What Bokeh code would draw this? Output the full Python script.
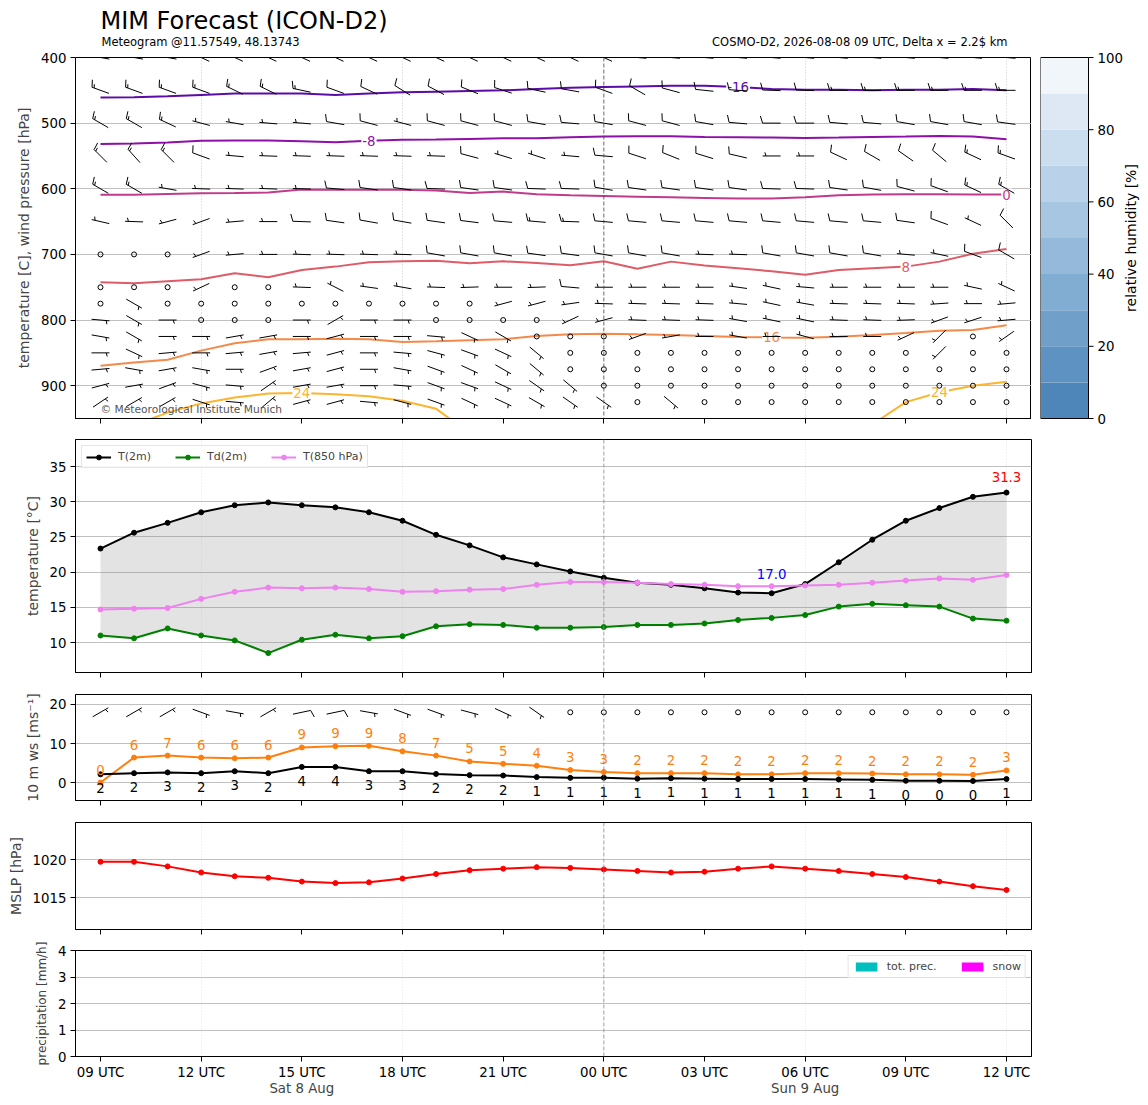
import numpy as np
import pandas as pd
from bokeh.plotting import figure
from bokeh.layouts import column, row
from bokeh.models import Range1d, FixedTicker, LinearAxis, Label, Span
from bokeh.core.properties import value
from bokeh.embed import file_html
from bokeh.resources import INLINE

FONT = "DejaVu Sans"

# ---------------- data ----------------
title_text = "MIM Forecast (ICON-D2)"
subtitle_left = "Meteogram @11.57549, 48.13743"
subtitle_right = "COSMO-D2, 2026-08-08 09 UTC, Delta x = 2.2$ km"
copyright_text = "© Meteorological Institute Munich"

times = pd.date_range("2026-08-08 09:00", periods=28, freq="h")
date_label_times = pd.to_datetime(["2026-08-08 15:00", "2026-08-09 06:00"])

levels = [400, 450, 500, 550, 600, 650, 700, 750, 775, 800, 825, 850, 875, 900, 925]

dir_400 = [280,280,280,295,295,295,295,295,295,295,295,295,295,295,295,295,275,275,275,275,275,275,275,275,275,275,275,275]
spd_400 = [15,15,15,15,15,15,15,15,15,15,15,15,15,15,15,15,15,15,15,15,15,15,15,15,15,15,15,15]
dir_450 = [290,290,290,290,296,296,282,290,295,302,298,292,288,282,280,290,300,285,276,274,272,272,270,270,270,270,270,270]
spd_450 = [15,15,15,15,15,15,15,10,10,10,10,10,10,10,10,10,10,10,10,10,10,10,15,15,15,15,15,15]
dir_500 = [300,300,295,285,280,275,275,280,285,285,285,285,285,280,275,280,285,285,280,275,270,270,275,275,280,280,280,278]
spd_500 = [15,15,15,5,5,5,5,10,10,5,10,10,10,10,10,10,10,10,10,10,10,10,10,10,10,10,10,10]
dir_550 = [315,318,315,290,275,272,272,272,272,272,272,285,287,288,275,275,288,292,287,283,270,270,295,300,305,310,295,290]
spd_550 = [15,15,15,10,5,5,5,5,5,5,5,10,5,5,5,10,10,10,10,10,5,5,10,10,10,10,15,15]
dir_600 = [300,300,280,272,272,272,272,275,278,278,272,278,278,272,272,280,278,278,278,278,272,272,278,280,285,290,295,300]
spd_600 = [15,15,5,5,5,5,5,10,10,10,10,10,10,10,10,10,10,10,10,10,10,10,10,10,10,10,15,15]
dir_650 = [283,272,255,250,265,270,272,278,280,280,278,277,275,275,272,275,275,275,275,275,275,275,275,275,278,290,295,315]
spd_650 = [5,5,5,5,5,5,10,10,10,10,10,10,10,15,15,10,10,10,10,10,10,10,10,10,10,10,5,10]
dir_700 = [0,0,0,250,265,270,272,272,272,272,280,280,280,278,278,280,280,280,272,272,280,280,280,280,275,282,290,300]
spd_700 = [0,0,0,5,5,5,5,5,5,5,10,10,10,10,10,10,10,10,5,5,10,10,10,10,5,5,10,10]
dir_750 = [0,0,0,245,0,0,272,297,278,280,272,268,270,268,275,270,270,270,270,278,282,275,270,270,270,270,282,295]
spd_750 = [0,0,0,5,0,0,5,5,5,5,5,5,5,5,10,5,5,5,5,5,5,5,5,5,5,5,5,5]
dir_775 = [0,120,0,0,0,0,0,0,0,0,0,0,255,255,262,272,272,272,272,275,282,280,272,272,272,266,270,265]
spd_775 = [0,5,0,0,0,0,0,0,0,0,0,0,5,5,5,5,5,5,5,5,5,5,5,5,5,5,5,5]
dir_800 = [95,120,90,0,0,0,90,60,90,90,0,0,0,0,245,255,272,272,272,280,282,282,272,272,268,250,252,265]
spd_800 = [5,5,5,0,0,0,5,5,5,5,0,0,0,0,5,5,5,5,5,5,5,5,5,5,5,5,5,5]
dir_825 = [100,120,90,90,80,80,90,75,90,90,95,115,120,0,0,0,250,260,270,280,270,285,270,270,245,225,0,235]
spd_825 = [5,5,5,5,5,5,5,5,5,5,5,5,5,0,0,0,5,5,5,5,5,5,5,5,5,5,0,5]
dir_850 = [90,115,85,90,85,80,85,75,90,95,105,110,115,130,0,0,0,0,0,0,0,0,0,0,0,225,0,0]
spd_850 = [5,5,5,5,5,5,5,5,5,5,5,5,5,5,0,0,0,0,0,0,0,0,0,0,0,5,0,0]
dir_875 = [85,100,80,100,90,70,80,75,90,100,110,115,120,130,0,0,0,0,0,0,0,0,0,0,0,0,0,0]
spd_875 = [5,5,5,5,5,5,5,5,5,5,5,5,5,5,0,0,0,0,0,0,0,0,0,0,0,0,0,0]
dir_900 = [75,80,70,105,95,55,80,80,90,95,110,110,115,125,130,0,0,0,0,0,0,0,0,0,0,0,0,0]
spd_900 = [5,5,5,5,5,5,5,5,5,5,5,5,5,5,5,0,0,0,0,0,0,0,0,0,0,0,0,0]
dir_925 = [56,60,60,108,95,50,75,75,95,105,110,115,115,120,125,125,0,130,0,0,0,0,0,0,0,0,0,0]
spd_925 = [5,5,5,5,5,5,5,5,5,5,5,5,5,5,5,5,0,5,0,0,0,0,0,0,0,0,0,0]

wind_dirs = [dir_400, dir_450, dir_500, dir_550, dir_600, dir_650, dir_700, dir_750,
             dir_775, dir_800, dir_825, dir_850, dir_875, dir_900, dir_925]
wind_spds = [spd_400, spd_450, spd_500, spd_550, spd_600, spd_650, spd_700, spd_750,
             spd_775, spd_800, spd_825, spd_850, spd_875, spd_900, spd_925]

# isotherm pressure heights [hPa]
nan = float("nan")
iso_levels = [-16, -8, 0, 8, 16, 24]
iso_m16 = [461,460.5,459,457,455,455,455,457,455,453,452,451,450,448,446,445,444,443,443,445,448,449,449,450,449,449,448,450]
iso_m8 = [531.6,531,529.6,527,526.5,526.5,527.5,529,527,525.5,525,524,523,523,521.5,520.4,520,520,521,521.5,522,522.5,522,521,520.4,519.5,520.4,524.5]
iso_0 = [609,609,607.8,606.8,606.4,605.8,601,601.5,601.5,601.5,602.7,606.3,604.3,608.4,610,611,612,613,613.9,615,615,613,610,608.8,608.4,608.4,608.8,608.8]
iso_8 = [742.5,744,741,738,728.8,734.9,723.6,718.6,712,710.5,709.5,713.6,710.5,713,716.6,710.5,722,711,717,721,725.7,731,723.7,721,718.6,711,699,691.6]
iso_16 = [869.5,864.5,860.4,846.6,835.5,829.4,829.4,828.4,829.4,833.5,832.4,830.9,829.4,824.3,821.8,820.7,821.8,822.8,824.3,825.8,826.5,826.8,825.3,822.8,819.7,816.2,815.1,808]
iso_24 = [nan,960,941,927,918,912,911,913,916,923,935,973,nan,nan,nan,nan,nan,nan,nan,nan,nan,nan,nan,959,925,910,900,894]
iso_lines = [iso_m16, iso_m8, iso_0, iso_8, iso_16, iso_24]
iso_colors = ["#5c0ca6", "#8e10a6", "#c13b8c", "#dd5c68", "#f4894a", "#fdb42f"]
iso_label_idx = [[19], [8], [27], [24], [20], [6, 25]]

rh_levels = [0, 10, 20, 30, 40, 50, 60, 70, 80, 90, 100]
rh_colors = ["#4f86b9", "#5e92c2", "#70a0ca", "#82add2", "#94b9da", "#a7c6e1",
             "#b9d2e9", "#cbdef0", "#dde8f4", "#f1f6fb"]
rh_ticks = [0, 20, 40, 60, 80, 100]
rh_label = "relative humidity [%]"

t2m = [23.35,25.6,27.0,28.5,29.5,29.9,29.5,29.2,28.5,27.3,25.3,23.8,22.1,21.1,20.1,19.2,18.5,18.2,17.7,17.1,17.0,18.3,21.4,24.6,27.3,29.1,30.7,31.3]
td2m = [11.0,10.6,12.0,11.0,10.3,8.5,10.4,11.1,10.6,10.9,12.3,12.6,12.5,12.1,12.1,12.2,12.5,12.5,12.7,13.2,13.5,13.9,15.1,15.5,15.3,15.1,13.4,13.1]
t850 = [14.7,14.8,14.9,16.2,17.2,17.8,17.7,17.8,17.6,17.2,17.3,17.5,17.6,18.2,18.6,18.6,18.5,18.3,18.2,18.0,18.0,18.1,18.2,18.5,18.8,19.1,18.9,19.6]

ws10 = [2.1,2.4,2.6,2.4,2.9,2.4,4.0,4.0,2.9,2.9,2.2,1.9,1.8,1.4,1.2,1.25,1.0,1.1,1.0,0.9,0.9,0.9,0.8,0.7,0.45,0.45,0.4,0.9]
gust10 = [0.0,6.4,6.9,6.4,6.2,6.4,9.0,9.3,9.4,8.0,6.9,5.4,4.8,4.3,3.2,2.7,2.4,2.4,2.4,2.1,2.1,2.4,2.4,2.3,2.1,2.1,2.0,3.1]
dir_10m = [60,60,60,110,100,60,78,78,100,110,110,105,115,125,0,0,0,0,0,0,0,0,0,0,0,0,0,0]
barb_row_10m = 18

mslp = [1019.7,1019.7,1019.1,1018.3,1017.8,1017.6,1017.1,1016.9,1017.0,1017.5,1018.1,1018.6,1018.8,1019.0,1018.9,1018.7,1018.5,1018.3,1018.4,1018.8,1019.1,1018.8,1018.5,1018.1,1017.7,1017.1,1016.5,1016.0]

precip_tot = [0.0]*28
precip_snow = [0.0]*28

# ---------------- derived x positions ----------------
hours = ((times - times[0]) / pd.Timedelta(hours=1)).to_numpy().astype(float)
tick_hours = hours[::3]
tick_labels = [f"{t:%H} UTC" for t in times[::3]]
grid6 = [h for h, t in zip(hours, times) if t.hour % 6 == 0 and t.hour != 0]
midnight = [h for h, t in zip(hours, times) if t.hour == 0][0]
date_hours = [float((t - times[0]) / pd.Timedelta(hours=1)) for t in date_label_times]
date_texts = [f"{t:%a} {t.day} {t:%b}" for t in date_label_times]

X0, X1 = hours[0] - 0.745, hours[-1] + 0.745
FW = 956
LEFT = 75
BOT = 11
TICK_FS = "10pt"
LAB_FS = "14px"


def make_fig(fh, y0, y1, top, bottom=BOT, right=5):
    p = figure(frame_width=FW, frame_height=fh, x_range=Range1d(X0, X1),
               y_range=Range1d(y0, y1), min_border_left=LEFT, min_border_right=right,
               min_border_top=top, min_border_bottom=bottom,
               output_backend="svg", toolbar_location=None)
    p.outline_line_color = "black"
    p.outline_line_width = 1
    p.background_fill_color = "white"
    p.border_fill_color = "white"
    return p


def style(p, yticks, ylabel, xlabels=False, vcol="#dddddd", mcol="#888888", ylab_size=LAB_FS):
    p.xaxis.ticker = FixedTicker(ticks=list(tick_hours))
    p.xaxis.major_label_overrides = {int(h): lab for h, lab in zip(tick_hours, tick_labels)}
    p.yaxis.ticker = FixedTicker(ticks=yticks)
    p.yaxis.axis_label = ylabel
    for ax in p.axis:
        ax.major_tick_out = 5
        ax.major_tick_in = 0
        ax.minor_tick_line_color = None
        ax.axis_line_color = "black"
        ax.major_tick_line_color = "black"
        ax.major_label_text_font = FONT
        ax.major_label_text_font_size = TICK_FS
        ax.major_label_text_color = "black"
        ax.axis_label_text_font = FONT
        ax.axis_label_text_font_size = ylab_size
        ax.axis_label_text_font_style = "normal"
        ax.axis_label_standoff = 6
        ax.major_label_standoff = 4
    if not xlabels:
        p.xaxis.major_label_text_font_size = "1px"
        p.xaxis.major_label_text_color = None
        p.xaxis.major_label_standoff = 0
    else:
        p.xaxis.major_label_standoff = 3
    p.ygrid.ticker = FixedTicker(ticks=yticks)
    p.ygrid.grid_line_color = "#b0b0b0"
    p.ygrid.grid_line_width = 0.8
    p.xgrid.ticker = FixedTicker(ticks=grid6)
    p.xgrid.grid_line_color = vcol
    p.xgrid.grid_line_dash = "1 2"
    p.xgrid.grid_line_width = 0.8
    p.add_layout(Span(location=midnight, dimension="height", line_color=mcol,
                      line_dash="4 2", line_width=0.8))


def add_barbs(p, xs, ys, dirs, spds, px_x, px_y, ysign, L=18.0):
    x0s, y0s, x1s, y1s, cx, cy = [], [], [], [], [], []
    sp = 0.125 * L
    for x, y, d, s in zip(xs, ys, dirs, spds):
        n5 = int(np.round(s / 5.0))
        if n5 == 0:
            cx.append(x)
            cy.append(y)
            continue
        nfull, half = divmod(n5, 2)
        th = np.deg2rad(d)
        tx, ty = np.sin(th), np.cos(th)
        nx, ny = np.cos(th), -np.sin(th)
        bx, by = -tx * L / 2, -ty * L / 2
        segs = [((bx, by), (tx * L / 2, ty * L / 2))]
        off = L
        for _ in range(nfull):
            ox, oy = bx + tx * off, by + ty * off
            segs.append(((ox, oy), (ox + nx * 0.4 * L + tx * sp, oy + ny * 0.4 * L + ty * sp)))
            off -= sp
        if half:
            if nfull == 0:
                off -= 1.5 * sp
            ox, oy = bx + tx * off, by + ty * off
            segs.append(((ox, oy), (ox + nx * 0.2 * L + tx * sp / 2, oy + ny * 0.2 * L + ty * sp / 2)))
        for (a, b), (c, e) in segs:
            x0s.append(x + a / px_x)
            y0s.append(y + ysign * b / px_y)
            x1s.append(x + c / px_x)
            y1s.append(y + ysign * e / px_y)
    p.segment(x0s, y0s, x1s, y1s, line_color="black", line_width=1)
    p.scatter(cx, cy, marker="circle", size=5, fill_color=None, line_color="black", line_width=1)


px_x = FW / (X1 - X0)

# ---------------- header (titles) ----------------
HH = 49
hdr = figure(frame_width=FW, frame_height=HH, x_range=Range1d(0, FW), y_range=Range1d(0, HH),
             min_border_left=LEFT, min_border_right=0, min_border_top=0, min_border_bottom=0,
             x_axis_type=None, y_axis_type=None, output_backend="svg", toolbar_location=None)
hdr.outline_line_color = None
hdr.grid.visible = False
hdr.text([25], [HH - 20], text=[title_text], text_font=value(FONT), text_font_size="24px",
         text_color="black", text_align="left", text_baseline="middle")
hdr.text([26], [HH - 41], text=[subtitle_left], text_font=value(FONT), text_font_size="11.5px",
         text_color="black", text_align="left", text_baseline="middle")
hdr.text([FW - 24], [HH - 41], text=[subtitle_right], text_font=value(FONT), text_font_size="11.5px",
         text_color="black", text_align="right", text_baseline="middle")

# ---------------- panel 1: upper air ----------------
FH1 = 361
P_BOT, P_TOP = 950, 400
p1 = make_fig(FH1, P_BOT, P_TOP, top=8, right=0)
style(p1, [400, 500, 600, 700, 800, 900], "temperature [C], wind pressure [hPa]",
      vcol="#bbbbbb", mcol="#444444")

for line, col in zip(iso_lines, iso_colors):
    p1.line(hours, line, line_color=col, line_width=2)
for lev, line, col, idxs in zip(iso_levels, iso_lines, iso_colors, iso_label_idx):
    p1.text([hours[i] for i in idxs], [line[i] for i in idxs], text=[str(lev)] * len(idxs),
            text_color=col, text_font=value(FONT), text_font_size="10pt",
            text_align="center", text_baseline="middle",
            background_fill_color="white", padding=1)

bx, by, bd, bs = [], [], [], []
for lev, dl, sl in zip(levels, wind_dirs, wind_spds):
    bx += list(hours)
    by += [lev] * len(hours)
    bd += dl
    bs += sl
add_barbs(p1, bx, by, bd, bs, px_x, FH1 / (P_BOT - P_TOP), -1)

p1.add_layout(Label(x=25, y=3, x_units="screen", y_units="screen",
                    text=copyright_text, text_font=FONT,
                    text_font_size="8pt", text_color="#555555", text_baseline="bottom"))

# ---------------- colorbar (drawn as its own small figure) ----------------
CB_W = 48
u = FH1 / 100.0            # pixels per percent
pad_top, pad_bot = 8, BOT
cb = figure(frame_width=108, frame_height=FH1 + pad_top + pad_bot,
            x_range=Range1d(0, 108), y_range=Range1d(-pad_bot / u, 100 + pad_top / u),
            min_border_left=9, min_border_right=0, min_border_top=0, min_border_bottom=0,
            x_axis_type=None, y_axis_type=None, output_backend="svg", toolbar_location=None)
cb.frame_align = False
cb.outline_line_color = None
cb.grid.visible = False
cb.quad(left=0, right=CB_W, bottom=rh_levels[:-1], top=rh_levels[1:], fill_color=rh_colors,
        line_color=None)
cb.quad(left=0, right=CB_W, bottom=rh_levels[0], top=rh_levels[-1], fill_color=None,
        line_color="black", line_width=1)
cb.segment(x0=[CB_W] * len(rh_ticks), y0=rh_ticks, x1=[CB_W + 5] * len(rh_ticks), y1=rh_ticks,
           line_color="black", line_width=1)
cb.text(x=[CB_W + 9] * len(rh_ticks), y=rh_ticks, text=[str(t) for t in rh_ticks],
        text_font=value(FONT), text_font_size=TICK_FS, text_color="black",
        text_align="left", text_baseline="middle")
cb.text(x=[CB_W + 42], y=[(rh_levels[0] + rh_levels[-1]) / 2], text=[rh_label], angle=np.pi / 2,
        text_font=value(FONT), text_font_size=LAB_FS, text_color="black",
        text_align="center", text_baseline="middle")

# ---------------- panel 2: temperatures ----------------
p2 = make_fig(233, 5.74, 38.84, top=10)
style(p2, [10, 15, 20, 25, 30, 35], "temperature [°C]")
p2.varea(x=hours, y1=td2m, y2=t2m, fill_color="gray", fill_alpha=0.22)
for ser, col, lab in [(t2m, "black", "T(2m)"), (td2m, "green", "Td(2m)"), (t850, "violet", "T(850 hPa)")]:
    p2.line(hours, ser, line_color=col, line_width=2, legend_label=lab)
    p2.scatter(hours, ser, marker="circle", size=5, fill_color=col, line_color=col, legend_label=lab)
imax = int(np.argmax(t2m))
imin = int(np.argmin(t2m))
p2.text([hours[imax]], [t2m[imax]], text=[f"{t2m[imax]:.1f}"], text_color="red",
        text_font=value(FONT), text_font_size="10pt", text_align="center",
        text_baseline="middle", y_offset=-16)
p2.text([hours[imin]], [t2m[imin]], text=[f"{t2m[imin]:.1f}"], text_color="blue",
        text_font=value(FONT), text_font_size="10pt", text_align="center",
        text_baseline="middle", y_offset=-19)
lg = p2.legend[0]
lg.location = "top_left"
lg.orientation = "horizontal"
lg.label_text_font = FONT
lg.label_text_font_size = "11px"
lg.glyph_width = 25
lg.glyph_height = 12
lg.label_standoff = 7
lg.spacing = 24
lg.padding = 4
lg.margin = 6
lg.border_line_color = "#cccccc"
lg.background_fill_alpha = 0.85
lg.label_height = 12

# ---------------- panel 3: 10 m wind ----------------
FH3 = 106
W_BOT, W_TOP = -4.6, 22.56
p3 = make_fig(FH3, W_BOT, W_TOP, top=11)
style(p3, [0, 10, 20], "10 m ws [ms⁻¹]")
p3.line(hours, gust10, line_color="#ff7f0e", line_width=2)
p3.scatter(hours, gust10, marker="circle", size=5, fill_color="#ff7f0e", line_color="#ff7f0e")
p3.line(hours, ws10, line_color="black", line_width=2)
p3.scatter(hours, ws10, marker="circle", size=5, fill_color="black", line_color="black")
p3.text(hours, gust10, text=[str(int(np.floor(v + 0.5))) for v in gust10], text_color="#ff7f0e",
        text_font=value(FONT), text_font_size="10pt", text_align="center",
        text_baseline="middle", y_offset=-13)
p3.text(hours, ws10, text=[str(int(np.floor(v + 0.5))) for v in ws10], text_color="black",
        text_font=value(FONT), text_font_size="10pt", text_align="center",
        text_baseline="middle", y_offset=14)
spd_10m = [v * 1.94384 for v in ws10]
add_barbs(p3, list(hours), [barb_row_10m] * len(hours), dir_10m, spd_10m, px_x,
          FH3 / (W_TOP - W_BOT), 1)

# ---------------- panel 4: MSLP ----------------
p4 = make_fig(107, 1010.8, 1024.87, top=11)
style(p4, [1015, 1020], "MSLP [hPa]")
p4.line(hours, mslp, line_color="red", line_width=2)
p4.scatter(hours, mslp, marker="circle", size=5, fill_color="red", line_color="red")

# ---------------- panel 5: precipitation ----------------
p5 = make_fig(106, 0, 4, top=10, bottom=10)
style(p5, [0, 1, 2, 3, 4], "precipitation [mm/h]", xlabels=True, ylab_size="9pt")
p5.vbar(x=hours, top=precip_tot, width=0.8, fill_color="#00bfbf", line_color=None,
        legend_label="tot. prec.")
p5.vbar(x=hours, top=precip_snow, width=0.8, fill_color="#ff00ff", line_color=None,
        legend_label="snow")
lg5 = p5.legend[0]
lg5.location = "top_right"
lg5.orientation = "horizontal"
lg5.label_text_font = FONT
lg5.label_text_font_size = "11px"
lg5.glyph_width = 27
lg5.glyph_height = 11
lg5.label_standoff = 7
lg5.spacing = 22
lg5.padding = 4
lg5.margin = 5
lg5.border_line_color = "#cccccc"
lg5.background_fill_alpha = 0.85
lg5.label_height = 12
ax2 = LinearAxis(ticker=FixedTicker(ticks=date_hours),
                 major_label_overrides={h: t for h, t in zip(date_hours, date_texts)})
ax2.axis_line_color = None
ax2.major_tick_line_color = None
ax2.major_tick_out = 0
ax2.major_tick_in = 0
ax2.minor_tick_line_color = None
ax2.major_label_text_font = FONT
ax2.major_label_text_font_size = TICK_FS
ax2.major_label_standoff = -2
p5.add_layout(ax2, "below")

layout = column(hdr, row(p1, cb), p2, p3, p4, p5)
open("out.html", "w").write(file_html(layout, INLINE))
